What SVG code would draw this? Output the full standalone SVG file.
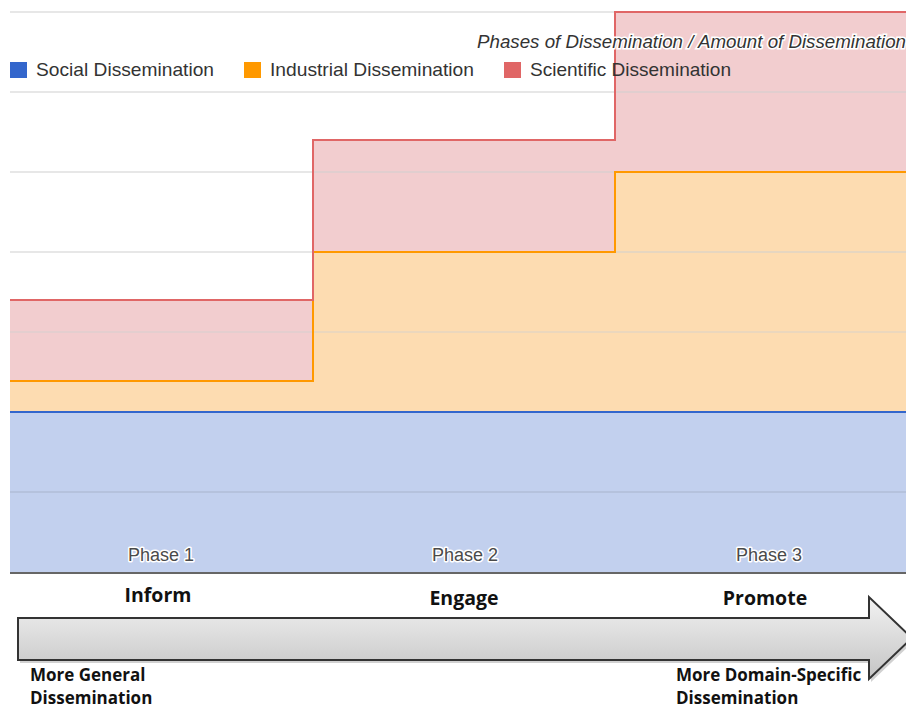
<svg xmlns="http://www.w3.org/2000/svg" width="906" height="710" viewBox="0 0 906 710">
<defs>
<linearGradient id="arrowGrad" x1="0" y1="0" x2="0" y2="1">
<stop offset="0" stop-color="#f2f2f2"/>
<stop offset="1" stop-color="#c4c4c4"/>
</linearGradient>
<style>
.grid{stroke:#d0d0d0;stroke-width:1.2}
.leg{font-family:"Liberation Sans",Arial,sans-serif;font-size:18.5px;fill:#333}
.phase{font-family:"Liberation Sans",Arial,sans-serif;font-size:18px;fill:#4a4a4a;stroke:#fff;stroke-width:3;paint-order:stroke;stroke-linejoin:round}
.lbl{font-family:"Open Sans","Liberation Sans",sans-serif;font-weight:bold;font-size:19.5px;fill:#111}
.sub{font-family:"Open Sans","Liberation Sans",sans-serif;font-weight:bold;font-size:17px;fill:#111}
</style>
</defs>
<rect width="906" height="710" fill="#fff"/>
<g id="chart">
<rect x="10" y="412" width="896" height="160" fill="#c2d0ee"/>
<path d="M10 381 H313 V252 H615 V172 H906 V412 H10 Z" fill="#fddcb1"/>
<path d="M10 300 H313 V140 H615 V12 H906 V172 H615 V252 H313 V381 H10 Z" fill="#f2cdcf"/>
<g class="grid">
<line x1="10" y1="12" x2="906" y2="12"/>
<line x1="10" y1="92" x2="906" y2="92"/>
<line x1="10" y1="172" x2="906" y2="172"/>
<line x1="10" y1="252" x2="906" y2="252"/>
<line x1="10" y1="332" x2="906" y2="332" stroke-opacity="0.8"/>
<line x1="10" y1="492" x2="906" y2="492" stroke="#a8b4cc"/>
</g>
<path d="M10 381 H313 V252 H615 V172 H906" fill="none" stroke="#ff9900" stroke-width="2"/>
<path d="M10 300 H313 V140 H615 V12 H906" fill="none" stroke="#e06666" stroke-width="2"/>
<line x1="10" y1="412" x2="906" y2="412" stroke="#3366cc" stroke-width="2"/>
<line x1="10" y1="573" x2="906" y2="573" stroke="#333" stroke-width="1.5"/>
<text class="phase" x="161" y="561" text-anchor="middle">Phase 1</text>
<text class="phase" x="465" y="561" text-anchor="middle">Phase 2</text>
<text class="phase" x="769" y="561" text-anchor="middle">Phase 3</text>
</g>
<g id="legend">
<rect x="10" y="62" width="17" height="16" fill="#3366cc"/>
<text class="leg" x="36" y="76" textLength="178" lengthAdjust="spacingAndGlyphs">Social Dissemination</text>
<rect x="244" y="62" width="17" height="16" fill="#ff9900"/>
<text class="leg" x="270" y="76" textLength="204" lengthAdjust="spacingAndGlyphs">Industrial Dissemination</text>
<rect x="504" y="62" width="17" height="16" fill="#e06666"/>
<text class="leg" x="530" y="76" textLength="201" lengthAdjust="spacingAndGlyphs">Scientific Dissemination</text>
<text class="leg" x="477" y="48" font-style="italic" fill="#444" font-size="17" textLength="429" lengthAdjust="spacingAndGlyphs" style="stroke:#fff;stroke-width:3;paint-order:stroke">Phases of Dissemination / Amount of Dissemination</text>
</g>
<g id="arrow">
<path d="M20 621 H871 V600 L914 641 L871 682 V663 H20 Z" fill="#000" opacity="0.18"/>
<path d="M18 618 H869 V597 L912 638 L869 679 V660 H18 Z" fill="url(#arrowGrad)" stroke="#333" stroke-width="2"/>
</g>
<g id="labels">
<text class="lbl" x="158" y="602" text-anchor="middle">Inform</text>
<text class="lbl" x="464" y="605" text-anchor="middle">Engage</text>
<text class="lbl" x="765" y="605" text-anchor="middle">Promote</text>
<text class="sub" x="30" y="681">More General</text>
<text class="sub" x="30" y="704">Dissemination</text>
<text class="sub" x="676" y="681">More Domain-Specific</text>
<text class="sub" x="676" y="704">Dissemination</text>
</g>
</svg>
